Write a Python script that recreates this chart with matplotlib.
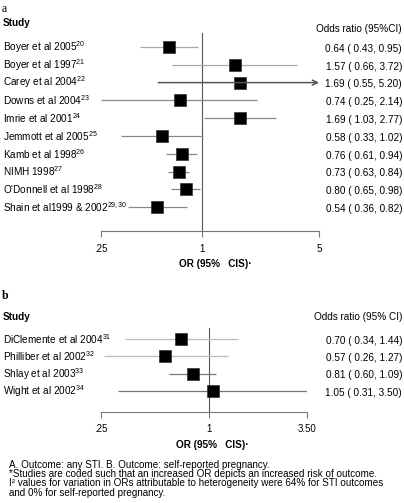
import matplotlib
matplotlib.use("Agg")
import matplotlib.pyplot as plt
import matplotlib.transforms as mtransforms
import numpy as np

plt.rcParams['font.family'] = ['Liberation Sans', 'DejaVu Sans']
plt.rcParams['mathtext.fontset'] = 'custom'
plt.rcParams['mathtext.rm'] = 'Liberation Sans'
plt.rcParams['mathtext.it'] = 'Liberation Sans'
plt.rcParams['mathtext.bf'] = 'Liberation Sans:bold'

# ---- data panel a (any STI) ----
studies_a = ["Boyer et al 2005", "Boyer et al 1997", "Carey et al 2004", "Downs et al 2004",
             "Imrie et al 2001", "Jemmott et al 2005", "Kamb et al 1998", "NIMH 1998",
             "O'Donnell et al 1998", "Shain et al1999 & 2002"]
refs_a = ["20", "21", "22", "23", "24", "25", "26", "27", "28", "29,30"]
or_a = [0.64, 1.57, 1.69, 0.74, 1.69, 0.58, 0.76, 0.73, 0.80, 0.54]
lo_a = [0.43, 0.66, 0.55, 0.25, 1.03, 0.33, 0.61, 0.63, 0.65, 0.36]
hi_a = [0.95, 3.72, 5.20, 2.14, 2.77, 1.02, 0.94, 0.84, 0.98, 0.82]
ticks_a = [0.25, 1, 5]
ticklabels_a = [".25", "1", "5"]

# ---- data panel b (self-reported pregnancy) ----
studies_b = ["DiClemente et al 2004", "Philliber et al 2002", "Shlay et al 2003", "Wight et al 2002"]
refs_b = ["31", "32", "33", "34"]
or_b = [0.70, 0.57, 0.81, 1.05]
lo_b = [0.34, 0.26, 0.60, 0.31]
hi_b = [1.44, 1.27, 1.09, 3.50]
ticks_b = [0.25, 1, 3.5]
ticklabels_b = [".25", "1", "3.50"]

W, H = 404, 503
fig = plt.figure(figsize=(W / 100, H / 100), dpi=100)

def px_axes(x0, x1, ytop, ybot):
    return fig.add_axes([x0 / W, 1 - ybot / H, (x1 - x0) / W, (ybot - ytop) / H])

FS = 7.2
line_cols_a = ["#aaaaaa", "#aaaaaa", "#555555", "#888888", "#888888", "#888888",
               "#888888", "#888888", "#888888", "#888888"]
line_cols_b = ["#bbbbbb", "#bbbbbb", "#777777", "#777777"]

def panel(ax, names, refs, ors, los, his, xmax, ticks, ticklabels, ytop, ybot, row0, step, cols):
    n = len(names)
    ax.set_xscale('log')
    ax.set_xlim(ticks[0], xmax)
    ax.set_ylim((ybot - row0) / step, (ytop - row0) / step)
    for s in ['top', 'right', 'left']:
        ax.spines[s].set_visible(False)
    ax.spines['bottom'].set_color('#777777')
    ax.spines['bottom'].set_linewidth(0.8)
    ax.set_yticks([])
    ax.set_xticks(ticks)
    ax.set_xticklabels(ticklabels)
    ax.xaxis.set_minor_locator(matplotlib.ticker.NullLocator())
    ax.tick_params(axis='x', direction='out', length=4, width=0.8, color='#777777',
                   labelsize=FS - 0.2, pad=5)
    ax.axvline(1, color='#555555', lw=0.8)
    trans_fig_x = mtransforms.blended_transform_factory(fig.transFigure, ax.transData)
    for i in range(n):
        hi = his[i]
        if hi > xmax:
            ax.annotate("", xy=(xmax, i), xytext=(los[i], i),
                        arrowprops=dict(arrowstyle='->', color=cols[i], lw=1.1,
                                        shrinkA=0, shrinkB=0, mutation_scale=9),
                        annotation_clip=False)
        else:
            ax.plot([los[i], hi], [i, i], color=cols[i], lw=0.9, solid_capstyle='butt')
        ax.plot([ors[i]], [i], marker='s', ms=8, color='black', mec='#333333', mew=0.5)
        ax.text(3 / W, i, names[i] + "$^{" + refs[i] + "}$", transform=trans_fig_x,
                ha='left', va='center', fontsize=FS)
        ax.text(402 / W, i + 0.1, "%.2f ( %.2f, %.2f)" % (ors[i], los[i], his[i]),
                transform=trans_fig_x, ha='right', va='center', fontsize=FS)

ax_a = px_axes(101, 319, 33, 231)
panel(ax_a, studies_a, refs_a, or_a, lo_a, hi_a, 5, ticks_a, ticklabels_a,
      33, 231, 47, 17.8, line_cols_a)
ax_b = px_axes(101, 307, 328, 412)
panel(ax_b, studies_b, refs_b, or_b, lo_b, hi_b, 3.5, ticks_b, ticklabels_b,
      328, 412, 339, 17.3, line_cols_b)

def ftext(x, y, s, **kw):
    fig.text(x / W, 1 - y / H, s, **kw)

ftext(2, 9, "a", fontsize=8.5, family='Liberation Serif', va='center', ha='left')
ftext(3, 23, "Study", fontsize=FS, weight='bold', va='center')
ftext(402, 29, "Odds ratio (95%CI)", fontsize=FS, ha='right', va='center')
ftext(215, 264, "OR (95%   CIS)·", fontsize=FS, weight='bold', ha='center', va='center')

ftext(2, 296, "b", fontsize=8.5, family='Liberation Serif', weight='bold', va='center', ha='left')
ftext(3, 317, "Study", fontsize=FS, weight='bold', va='center')
ftext(402, 317, "Odds ratio (95% CI)", fontsize=FS, ha='right', va='center')
ftext(212, 445, "OR (95%   CIS)·", fontsize=FS, weight='bold', ha='center', va='center')

notes = ["A. Outcome: any STI. B. Outcome: self-reported pregnancy.",
         "*Studies are coded such that an increased OR depicts an increased risk of outcome.",
         "I² values for variation in ORs attributable to heterogeneity were 64% for STI outcomes",
         "and 0% for self-reported pregnancy."]
for k, s in enumerate(notes):
    ftext(9, 465 + k * 9.2, s, fontsize=7.1, va='center', ha='left')

fig.savefig("out.png", dpi=100)
